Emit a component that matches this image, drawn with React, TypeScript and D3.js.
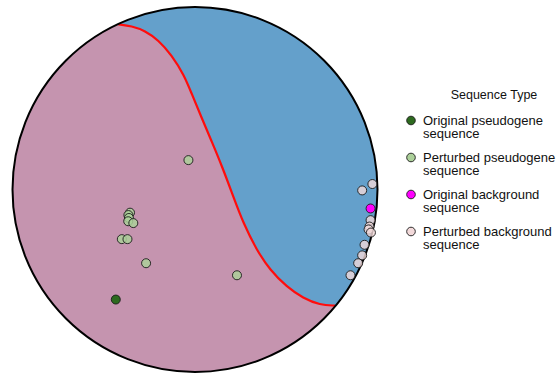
import React from "react";
import * as d3 from "d3";

// Embedding coordinates on the unit disk (x right, y up)
const originalPseudogene: [number, number][] = [[-0.434, -0.603]];
const perturbedPseudogene: [number, number][] = [
  [-0.036, 0.161],
  [-0.356, -0.127],
  [-0.365, -0.14],
  [-0.362, -0.156],
  [-0.366, -0.174],
  [-0.338, -0.184],
  [-0.401, -0.272],
  [-0.37, -0.272],
  [-0.268, -0.404],
  [0.23, -0.47],
];
const originalBackground: [number, number][] = [[0.962, -0.104]];
const perturbedBackground: [number, number][] = [
  [0.972, 0.03],
  [0.916, -0.005],
  [0.962, -0.168],
  [0.956, -0.203],
  [0.951, -0.219],
  [0.964, -0.236],
  [0.929, -0.303],
  [0.916, -0.361],
  [0.894, -0.404],
  [0.852, -0.47],
];

// Decision boundary between the two classes
const boundary: [number, number][] = [
  [-0.42, 0.905],
  [-0.347, 0.896],
  [-0.274, 0.87],
  [-0.201, 0.819],
  [-0.128, 0.737],
  [-0.06, 0.627],
  [-0.019, 0.527],
  [0.034, 0.399],
  [0.092, 0.262],
  [0.149, 0.125],
  [0.21, -0.039],
  [0.265, -0.185],
  [0.338, -0.332],
  [0.411, -0.441],
  [0.502, -0.533],
  [0.593, -0.596],
  [0.685, -0.633],
  [0.767, -0.636],
];

const legendTitle = "Sequence Type";
const legendLabels: [string, string][] = [
  ["Original pseudogene", "sequence"],
  ["Perturbed pseudogene", "sequence"],
  ["Original background", "sequence"],
  ["Perturbed background", "sequence"],
];
const legendColors = ["#2d6a1f", "#acd09a", "#ff00ff", "#f2d9da"];

const W = 556;
const H = 374;
const cx = 195;
const cy = 189.5;
const R = 182.5;

export default function App() {
  const x = d3.scaleLinear().domain([-1, 1]).range([cx - R, cx + R]);
  const y = d3.scaleLinear().domain([-1, 1]).range([cy + R, cy - R]);

  const line = d3
    .line<[number, number]>()
    .x((d) => x(d[0]))
    .y((d) => y(d[1]))
    .curve(d3.curveBasis);

  const curvePath = line(boundary) || "";
  const first = boundary[0];
  const last = boundary[boundary.length - 1];
  // pink side: close the boundary around the lower-left, outside the disk (clipped)
  const pinkPath =
    curvePath +
    `L${x(last[0]) + 90},${y(last[1]) + 25}` +
    `L${W + 20},${H + 40}L-20,${H + 40}L-20,-20` +
    `L${x(first[0]) - 8},-20Z`;

  const groups = [
    { data: perturbedPseudogene, color: legendColors[1], op: 0.85 },
    { data: perturbedBackground, color: legendColors[3], op: 0.8 },
    { data: originalPseudogene, color: legendColors[0], op: 1 },
    { data: originalBackground, color: legendColors[2], op: 1 },
  ];

  const legendX = 411;
  const legendY0 = 120.5;
  const legendStep = 37;

  return (
    <svg
      width={W}
      height={H}
      style={{ position: "absolute", left: 0, top: 0, background: "#fff" }}
      fontFamily="'Liberation Sans', Arial, sans-serif"
    >
      <defs>
        <clipPath id="disk">
          <circle cx={cx} cy={cy} r={R} />
        </clipPath>
      </defs>
      <g clipPath="url(#disk)">
        <circle cx={cx} cy={cy} r={R} fill="#64a0cb" />
        <path d={pinkPath} fill="#c594af" />
        <path d={curvePath} fill="none" stroke="#ff0d0d" strokeWidth={2.2} />
      </g>
      <circle cx={cx} cy={cy} r={R} fill="none" stroke="#000" strokeWidth={2} />
      {groups.map((g, gi) =>
        g.data.map((d, i) => (
          <circle
            key={`${gi}-${i}`}
            cx={x(d[0])}
            cy={y(d[1])}
            r={4.5}
            fill={g.color}
            fillOpacity={g.op}
            stroke="#1a1a1a"
            strokeWidth={0.9}
          />
        ))
      )}
      <text x={494} y={99} fontSize={12.5} textAnchor="middle" fill="#111">
        {legendTitle}
      </text>
      {legendLabels.map((lbl, i) => {
        const yy = legendY0 + i * legendStep;
        return (
          <g key={i}>
            <circle
              cx={legendX}
              cy={yy}
              r={4.3}
              fill={legendColors[i]}
              stroke="#1a1a1a"
              strokeWidth={0.9}
            />
            <text x={423} y={yy + 4} fontSize={13} fill="#111">
              {lbl[0]}
            </text>
            <text x={423} y={yy + 17.5} fontSize={13} fill="#111">
              {lbl[1]}
            </text>
          </g>
        );
      })}
    </svg>
  );
}
